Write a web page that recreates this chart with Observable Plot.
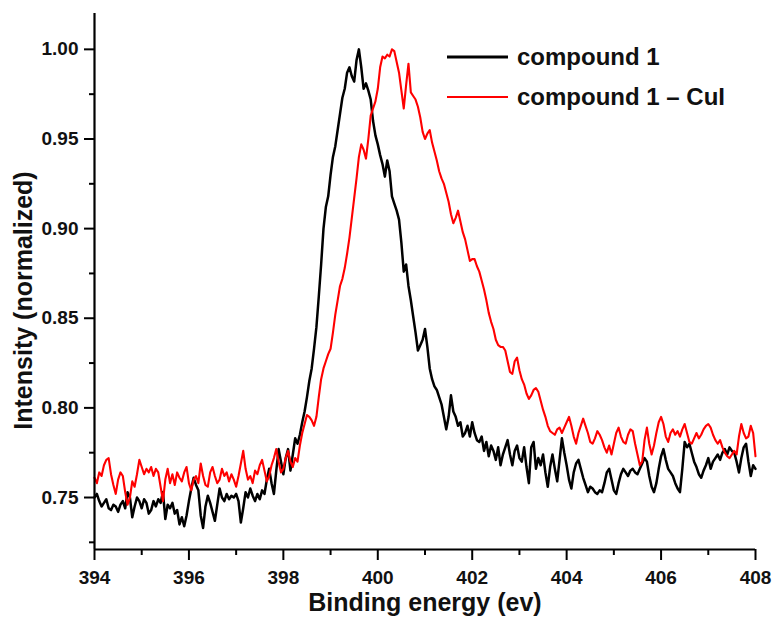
<!DOCTYPE html>
<html>
<head>
<meta charset="utf-8">
<script src="https://cdn.jsdelivr.net/npm/d3@7"></script>
<script src="https://cdn.jsdelivr.net/npm/@observablehq/plot@0.6"></script>
<style>
  html, body { margin: 0; padding: 0; background: #fff; }
  #chart { position: relative; width: 774px; height: 619px; }
  svg { font-family: "Liberation Sans", Arial, sans-serif; }
</style>
</head>
<body>
<div id="chart"></div>
<script>
// ---- Data ----
const energyStart = 394;      // eV, first sample
const energyStep = 0.05;      // eV, sampling step

const seriesNames = ["compound 1", "compound 1 – CuI"];
const seriesColors = ["#000000", "#ff0000"];

const compound1 = [
  0.750,0.752,0.748,0.745,0.747,0.749,0.744,0.743,0.746,0.745,0.742,0.746,0.748,0.744,0.753,0.750,0.739,0.745,0.750,0.748,
  0.744,0.749,0.747,0.741,0.743,0.748,0.745,0.749,0.747,0.753,0.738,0.746,0.744,0.747,0.741,0.743,0.735,0.739,0.734,0.740,
  0.748,0.755,0.761,0.757,0.754,0.740,0.733,0.745,0.751,0.747,0.742,0.737,0.746,0.755,0.750,0.748,0.752,0.749,0.751,0.750,
  0.752,0.748,0.736,0.744,0.753,0.750,0.755,0.751,0.748,0.752,0.749,0.754,0.752,0.760,0.766,0.758,0.752,0.765,0.777,0.770,
  0.763,0.772,0.777,0.765,0.774,0.783,0.780,0.785,0.792,0.798,0.806,0.815,0.822,0.833,0.845,0.862,0.880,0.900,0.912,0.918,
  0.930,0.940,0.946,0.955,0.964,0.973,0.978,0.987,0.990,0.985,0.982,0.994,1.000,0.990,0.978,0.981,0.977,0.972,0.960,0.952,
  0.947,0.941,0.936,0.929,0.938,0.932,0.918,0.914,0.910,0.905,0.892,0.876,0.880,0.868,0.860,0.851,0.842,0.832,0.835,0.838,
  0.844,0.834,0.822,0.816,0.812,0.810,0.806,0.802,0.795,0.788,0.795,0.807,0.798,0.795,0.790,0.792,0.784,0.786,0.790,0.784,
  0.792,0.786,0.782,0.781,0.784,0.776,0.781,0.773,0.779,0.776,0.771,0.778,0.768,0.774,0.778,0.782,0.774,0.768,0.776,0.779,
  0.772,0.770,0.778,0.767,0.758,0.778,0.781,0.766,0.772,0.768,0.774,0.764,0.756,0.767,0.774,0.766,0.759,0.771,0.783,0.775,
  0.768,0.760,0.755,0.764,0.769,0.771,0.766,0.761,0.757,0.753,0.756,0.755,0.753,0.752,0.754,0.753,0.758,0.764,0.766,0.760,
  0.754,0.752,0.758,0.763,0.766,0.764,0.762,0.765,0.766,0.764,0.763,0.766,0.769,0.772,0.770,0.762,0.756,0.753,0.758,0.766,
  0.773,0.777,0.771,0.766,0.764,0.762,0.758,0.755,0.753,0.766,0.781,0.778,0.780,0.775,0.770,0.767,0.763,0.761,0.765,0.768,
  0.772,0.766,0.770,0.772,0.774,0.771,0.775,0.777,0.774,0.778,0.776,0.775,0.770,0.764,0.772,0.778,0.780,0.770,0.762,0.768,
  0.766
];

const compound1CuI = [
  0.761,0.758,0.764,0.762,0.768,0.771,0.772,0.763,0.757,0.752,0.760,0.764,0.762,0.753,0.746,0.750,0.759,0.756,0.763,0.771,
  0.767,0.763,0.766,0.764,0.767,0.762,0.766,0.764,0.756,0.748,0.760,0.766,0.758,0.763,0.757,0.764,0.761,0.759,0.764,0.767,
  0.758,0.754,0.760,0.762,0.758,0.769,0.762,0.757,0.756,0.764,0.767,0.762,0.758,0.760,0.766,0.762,0.764,0.759,0.763,0.760,
  0.756,0.762,0.769,0.776,0.766,0.760,0.762,0.758,0.765,0.763,0.768,0.771,0.765,0.759,0.762,0.768,0.772,0.777,0.770,0.764,
  0.766,0.772,0.776,0.770,0.767,0.772,0.770,0.779,0.786,0.791,0.796,0.795,0.793,0.790,0.795,0.806,0.816,0.822,0.826,0.830,
  0.833,0.842,0.852,0.860,0.868,0.872,0.878,0.886,0.895,0.906,0.917,0.928,0.940,0.947,0.944,0.939,0.950,0.963,0.967,0.971,
  0.978,0.990,0.996,0.995,0.997,0.996,1.000,0.999,0.993,0.987,0.977,0.967,0.980,0.992,0.976,0.974,0.972,0.968,0.962,0.954,
  0.950,0.953,0.955,0.948,0.943,0.938,0.932,0.928,0.925,0.920,0.915,0.908,0.903,0.906,0.910,0.904,0.898,0.894,0.888,0.882,
  0.883,0.883,0.879,0.876,0.871,0.866,0.860,0.853,0.848,0.844,0.838,0.835,0.834,0.834,0.832,0.826,0.820,0.819,0.826,0.828,
  0.821,0.816,0.813,0.808,0.805,0.807,0.810,0.811,0.809,0.804,0.799,0.795,0.790,0.787,0.786,0.785,0.788,0.789,0.786,0.789,
  0.792,0.795,0.790,0.784,0.780,0.786,0.790,0.794,0.790,0.786,0.781,0.780,0.783,0.787,0.785,0.782,0.778,0.775,0.779,0.774,
  0.780,0.786,0.789,0.784,0.781,0.780,0.785,0.788,0.787,0.780,0.774,0.768,0.770,0.782,0.789,0.780,0.774,0.779,0.786,0.792,
  0.795,0.791,0.784,0.781,0.786,0.788,0.785,0.787,0.784,0.788,0.791,0.786,0.781,0.780,0.783,0.786,0.783,0.785,0.788,0.790,
  0.791,0.789,0.785,0.782,0.780,0.782,0.778,0.775,0.773,0.772,0.774,0.776,0.774,0.784,0.791,0.786,0.783,0.784,0.790,0.786,
  0.773
];

const xDomain = [394, 408];
const yDomain = [0.721, 1.02];
const xMajorTicks = [394, 396, 398, 400, 402, 404, 406, 408];
const xMinorTicks = [395, 397, 399, 401, 403, 405, 407];
const yMajorTicks = [0.75, 0.80, 0.85, 0.90, 0.95, 1.00];
const yMinorTicks = [0.725, 0.775, 0.825, 0.875, 0.925, 0.975];
const xLabel = "Binding energy (ev)";
const yLabel = "Intensity (normalized)";

// ---- Build table ----
const energies = compound1.map((_, i) => +(energyStart + i * energyStep).toFixed(2));
const rows1 = compound1.map((v, i) => ({energy: energies[i], intensity: v, series: seriesNames[0]}));
const rows2 = compound1CuI.map((v, i) => ({energy: energies[i], intensity: v, series: seriesNames[1]}));

const font = "'Liberation Sans', Arial, sans-serif";

const chart = Plot.plot({
  width: 774,
  height: 619,
  marginLeft: 94,
  marginRight: 19,
  marginTop: 13,
  marginBottom: 70,
  style: {fontFamily: font, background: "#fff"},
  x: {domain: xDomain},
  y: {domain: yDomain},
  marks: [
    Plot.line(rows1, {x: "energy", y: "intensity", stroke: seriesColors[0], strokeWidth: 2.5, strokeLinejoin: "round"}),
    Plot.line(rows2, {x: "energy", y: "intensity", stroke: seriesColors[1], strokeWidth: 2.1, strokeLinejoin: "round"}),
    Plot.ruleX([xDomain[0]], {stroke: "#000", strokeWidth: 2.2}),
    Plot.ruleY([yDomain[0]], {stroke: "#000", strokeWidth: 2.2}),
    Plot.axisY(yMajorTicks, {tickSize: 10, tickPadding: 6, strokeWidth: 2, tickFormat: d3.format(".2f"),
      fontSize: 19, fontWeight: "bold", fill: "#111", label: null}),
    Plot.axisY(yMinorTicks, {tickSize: 5, strokeWidth: 2, tickFormat: () => "", label: null}),
    Plot.axisX(xMajorTicks, {tickSize: 11, tickPadding: 10, strokeWidth: 2, tickFormat: d3.format("d"),
      fontSize: 19, fontWeight: "bold", fill: "#111", label: null}),
    Plot.axisX(xMinorTicks, {tickSize: 6, strokeWidth: 2, tickFormat: () => "", label: null}),
    Plot.text([yLabel], {frameAnchor: "left", rotate: -90, dx: -71, dy: 19, fontSize: 25, fontWeight: "bold",
      textAnchor: "middle", lineAnchor: "middle", fill: "#111"}),
    Plot.text([xLabel], {frameAnchor: "bottom", dy: 53, fontSize: 25, fontWeight: "bold",
      textAnchor: "middle", lineAnchor: "middle", fill: "#111", style: "letter-spacing: 0.6px"})
  ]
});

// ---- Legend (drawn inside the svg, top right) ----
const svg = d3.select(chart);
const legend = svg.append("g").attr("font-family", font).attr("text-anchor", "start");
const legendItems = seriesNames.map((name, i) => ({name, color: seriesColors[i], y: 57 + i * 40, w: i === 0 ? 3 : 2}));
legendItems.forEach(d => {
  legend.append("line").attr("x1", 447).attr("x2", 508).attr("y1", d.y).attr("y2", d.y)
    .attr("stroke", d.color).attr("stroke-width", d.w);
  legend.append("text").attr("x", 517).attr("y", d.y + 8).attr("font-size", 24).attr("font-weight", "bold")
    .attr("text-anchor", "start").attr("fill", "#111").text(d.name);
});

document.getElementById("chart").appendChild(chart);
</script>
</body>
</html>
